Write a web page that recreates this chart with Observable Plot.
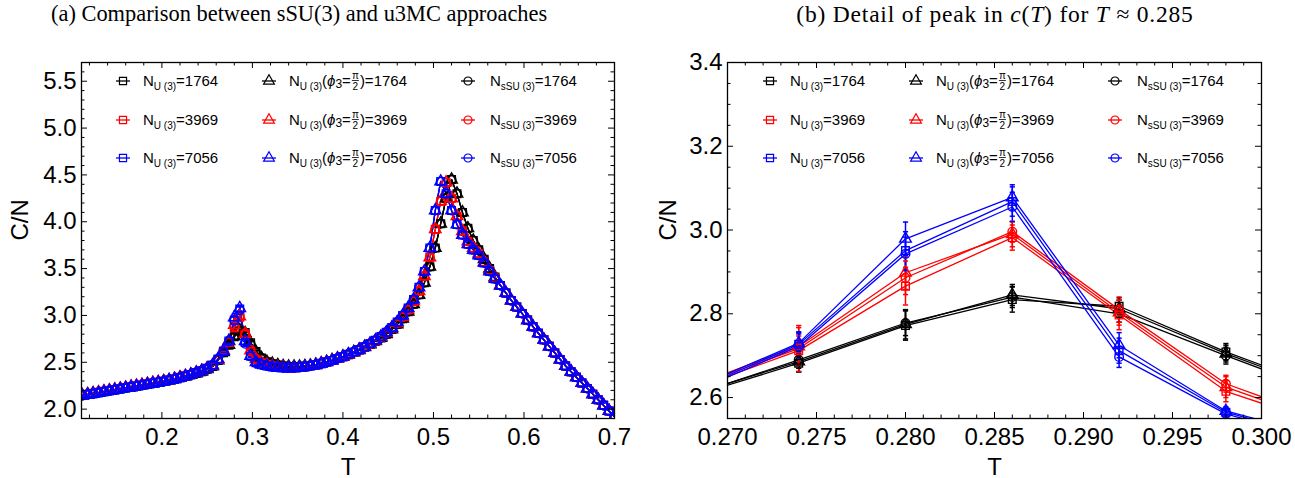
<!DOCTYPE html>
<html><head><meta charset="utf-8">
<script src="https://cdn.jsdelivr.net/npm/d3@7"></script>
<script src="https://cdn.jsdelivr.net/npm/@observablehq/plot@0.6"></script>
<style>
body{margin:0;background:#fff;width:1295px;height:478px;position:relative;overflow:hidden;font-family:"Liberation Sans",Arial,sans-serif;}
.title{position:absolute;top:1px;font-family:"Liberation Serif","Times New Roman",serif;font-size:22.4px;line-height:26px;white-space:nowrap;z-index:2;color:#000;}
.panel{position:absolute;top:0;}
</style></head><body>
<div id="ta" class="title" style="left:51px">(a) Comparison between sSU(3) and u3MC approaches</div>
<div id="tb" class="title" style="left:995px;transform:translateX(-50%);font-size:23.5px;letter-spacing:0.8px">(b) Detail of peak in <i>c</i>(<i>T</i>) for <i>T</i> ≈ 0.285</div>
<div id="pa" class="panel" style="left:0"></div>
<div id="pb" class="panel" style="left:647px"></div>
<script>
// ---------- data ----------
const sizes = [1764, 3969, 7056];
const sizeColors = ["#000000", "#ff0000", "#0000ff"];
const methods = ["U(3)", "U(3) phi3=pi/2", "sSU(3)"];
const methodSymbols = ["square", "triangle", "circle"];

// panel (a): temperature grid and C/N per lattice size
const tempA = [0.112,0.118,0.124,0.130,0.136,0.142,0.148,0.154,0.160,0.166,
0.172,0.178,0.184,0.190,0.196,0.202,0.208,0.214,0.220,0.226,
0.232,0.238,0.244,0.250,0.256,0.262,0.268,0.274,0.280,0.286,
0.292,0.298,0.304,0.310,0.316,0.322,0.328,0.334,0.340,0.346,
0.352,0.358,0.364,0.370,0.376,0.382,0.388,0.394,0.400,0.406,
0.412,0.418,0.424,0.430,0.436,0.442,0.448,0.454,0.460,0.466,
0.472,0.478,0.484,0.490,0.496,0.502,0.508,0.514,0.520,0.526,
0.532,0.538,0.544,0.550,0.556,0.562,0.568,0.574,0.580,0.586,
0.592,0.598,0.604,0.610,0.616,0.622,0.628,0.634,0.640,0.646,
0.652,0.658,0.664,0.670,0.676,0.682,0.688,0.694,0.700];
const cA1764 = [2.145,2.155,2.165,2.175,2.185,2.195,2.205,2.215,2.225,2.235,
2.245,2.255,2.265,2.275,2.285,2.295,2.305,2.32,2.335,2.35,
2.365,2.38,2.40,2.425,2.455,2.52,2.605,2.686,2.775,2.84,
2.812,2.705,2.61,2.545,2.505,2.485,2.47,2.46,2.455,2.455,
2.455,2.46,2.465,2.475,2.49,2.505,2.52,2.54,2.56,2.58,
2.605,2.63,2.66,2.69,2.725,2.76,2.80,2.85,2.905,2.965,
3.04,3.12,3.22,3.35,3.52,3.72,3.98,4.25,4.45,4.30,
4.10,3.93,3.80,3.70,3.60,3.50,3.41,3.32,3.24,3.16,
3.09,3.02,2.95,2.88,2.81,2.74,2.67,2.60,2.53,2.46,
2.40,2.34,2.28,2.22,2.16,2.10,2.04,1.98,1.92];
const cA3969 = [2.15,2.16,2.17,2.18,2.19,2.20,2.21,2.22,2.23,2.24,
2.25,2.26,2.27,2.28,2.29,2.30,2.31,2.325,2.34,2.355,
2.37,2.39,2.41,2.435,2.465,2.53,2.625,2.717,2.886,2.99,
2.803,2.625,2.535,2.495,2.475,2.46,2.45,2.445,2.44,2.44,
2.445,2.45,2.46,2.47,2.485,2.50,2.52,2.54,2.56,2.58,
2.605,2.635,2.665,2.695,2.73,2.77,2.815,2.865,2.92,2.985,
3.06,3.15,3.26,3.42,3.62,3.92,4.22,4.42,4.25,4.06,
3.90,3.79,3.72,3.66,3.57,3.48,3.40,3.32,3.24,3.16,
3.09,3.02,2.95,2.88,2.81,2.74,2.67,2.60,2.53,2.46,
2.40,2.34,2.28,2.22,2.16,2.10,2.04,1.98,1.92];
const cA7056 = [2.145,2.155,2.165,2.175,2.185,2.195,2.205,2.215,2.225,2.235,
2.245,2.255,2.265,2.275,2.285,2.295,2.31,2.32,2.335,2.35,
2.37,2.39,2.41,2.435,2.47,2.535,2.615,2.727,2.95,3.067,
2.711,2.565,2.495,2.475,2.46,2.45,2.445,2.44,2.44,2.44,
2.445,2.45,2.46,2.47,2.485,2.50,2.52,2.54,2.56,2.585,
2.61,2.635,2.665,2.70,2.735,2.775,2.82,2.87,2.93,3.00,
3.08,3.17,3.30,3.47,3.72,4.12,4.43,4.30,4.12,3.97,
3.86,3.76,3.70,3.64,3.56,3.47,3.39,3.32,3.24,3.16,
3.09,3.02,2.95,2.88,2.81,2.74,2.67,2.60,2.53,2.46,
2.40,2.34,2.28,2.22,2.16,2.10,2.04,1.98,1.92];

// panel (b): detail around the first peak, one array per series
const tempB = [0.268, 0.274, 0.280, 0.286, 0.292, 0.298, 0.304];
const cB1764_U3  = [2.603, 2.682, 2.772, 2.834, 2.818, 2.709, 2.615];
const cB1764_phi = [2.607, 2.686, 2.775, 2.845, 2.812, 2.705, 2.610];
const cB1764_sSU = [2.605, 2.690, 2.778, 2.840, 2.800, 2.700, 2.605];
const cB3969_U3  = [2.620, 2.712, 2.866, 2.982, 2.797, 2.615, 2.530];
const cB3969_phi = [2.628, 2.722, 2.898, 2.990, 2.803, 2.625, 2.535];
const cB3969_sSU = [2.625, 2.717, 2.886, 2.996, 2.810, 2.633, 2.540];
const cB7056_U3  = [2.615, 2.727, 2.951, 3.068, 2.712, 2.565, 2.495];
const cB7056_phi = [2.620, 2.730, 2.979, 3.078, 2.725, 2.568, 2.500];
const cB7056_sSU = [2.612, 2.722, 2.943, 3.055, 2.697, 2.561, 2.490];
// error bar half-lengths
const eB1764_U3  = [0.015, 0.020, 0.035, 0.030, 0.020, 0.020, 0.015];
const eB1764_phi = [0.015, 0.025, 0.035, 0.025, 0.020, 0.020, 0.015];
const eB1764_sSU = [0.015, 0.020, 0.030, 0.025, 0.020, 0.020, 0.015];
const eB3969_U3  = [0.015, 0.035, 0.045, 0.030, 0.035, 0.025, 0.015];
const eB3969_phi = [0.015, 0.045, 0.040, 0.030, 0.030, 0.025, 0.015];
const eB3969_sSU = [0.015, 0.055, 0.040, 0.025, 0.030, 0.020, 0.015];
const eB7056_U3  = [0.015, 0.030, 0.045, 0.035, 0.030, 0.010, 0.010];
const eB7056_phi = [0.015, 0.025, 0.040, 0.030, 0.030, 0.010, 0.010];
const eB7056_sSU = [0.015, 0.030, 0.040, 0.035, 0.025, 0.010, 0.010];

// ticks
const xTicksA = [0.2, 0.3, 0.4, 0.5, 0.6, 0.7];
const yTicksA = [2.0, 2.5, 3.0, 3.5, 4.0, 4.5, 5.0, 5.5];
const xTicksB = [0.270, 0.275, 0.280, 0.285, 0.290, 0.295, 0.300];
const yTicksB = [2.6, 2.8, 3.0, 3.2, 3.4];

// ---------- tables ----------
const baseA = [cA1764, cA3969, cA7056];
const detailB = [[cB1764_U3, cB1764_phi, cB1764_sSU],[cB3969_U3, cB3969_phi, cB3969_sSU],[cB7056_U3, cB7056_phi, cB7056_sSU]];
const errB = [[eB1764_U3, eB1764_phi, eB1764_sSU],[eB3969_U3, eB3969_phi, eB3969_sSU],[eB7056_U3, eB7056_phi, eB7056_sSU]];

const rowsA = [], rowsB = [];
sizes.forEach((n, i) => methods.forEach((m, j) => {
  tempA.forEach((t, k) => {
    const d = tempB.indexOf(t);
    rowsA.push({T: t, v: d >= 0 ? detailB[i][j][d] : baseA[i][k], e: d >= 0 ? errB[i][j][d] : 0, sz: String(n), method: m, key: i * 3 + j});
  });
  tempB.forEach((t, k) => rowsB.push({T: t, v: detailB[i][j][k], e: errB[i][j][k], sz: String(n), method: m, key: i * 3 + j}));
}));
const errA = rowsA.filter(d => d.e > 0);

const capSymbol = {draw(ctx, size) { const r = Math.sqrt(size / Math.PI); ctx.moveTo(-r, 0); ctx.lineTo(r, 0); }};
const H = 478, MT = 62, MB = 60;

function panel({rows, errs, width, ml, mr, xDomain, yDomain, xTicks, yTicks, xMinor, yMinor, xFmt, yFmt, ylabDx}) {
  const fw = width - ml - mr, fh = H - MT - MB;
  const majorLen = 6, minorLen = 3.5;
  return Plot.plot({
    width, height: H, marginLeft: ml, marginRight: mr, marginTop: MT, marginBottom: MB,
    x: {domain: xDomain}, y: {domain: yDomain},
    color: {type: "ordinal", domain: sizes.map(String), range: sizeColors},
    symbol: {domain: methods, range: methodSymbols},
    style: {fontFamily: "'Liberation Sans', Arial, sans-serif", fontSize: "24px", background: "white", color: "black", overflow: "visible"},
    marks: [
      Plot.line(rows, {x: "T", y: "v", z: "key", stroke: "sz", strokeWidth: 1.3, clip: true}),
      Plot.ruleX(errs, {x: "T", y1: d => d.v - d.e, y2: d => d.v + d.e, stroke: "sz", strokeWidth: 1.5, clip: true}),
      Plot.dot(errs, {x: "T", y: d => d.v + d.e, symbol: capSymbol, r: 2.6, stroke: "sz", strokeWidth: 1.5, clip: true}),
      Plot.dot(errs, {x: "T", y: d => d.v - d.e, symbol: capSymbol, r: 2.6, stroke: "sz", strokeWidth: 1.5, clip: true}),
      Plot.dot(rows, {x: "T", y: "v", symbol: "method", stroke: "sz", fill: "none", r: 4.3, strokeWidth: 1.4, clip: true}),
      Plot.frame({stroke: "black", strokeWidth: 1.3}),
      Plot.tickX(xTicks, {stroke: "black", insetTop: fh - majorLen}),
      Plot.tickX(xTicks, {stroke: "black", insetBottom: fh - majorLen}),
      Plot.tickX(xMinor, {stroke: "black", insetTop: fh - minorLen}),
      Plot.tickX(xMinor, {stroke: "black", insetBottom: fh - minorLen}),
      Plot.tickY(yTicks, {stroke: "black", insetRight: fw - majorLen}),
      Plot.tickY(yTicks, {stroke: "black", insetLeft: fw - majorLen}),
      Plot.tickY(yMinor, {stroke: "black", insetRight: fw - minorLen}),
      Plot.tickY(yMinor, {stroke: "black", insetLeft: fw - minorLen}),
      Plot.axisX({ticks: xTicks, tickFormat: xFmt, tickSize: 0, tickPadding: 9, label: null}),
      Plot.axisY({ticks: yTicks, tickFormat: yFmt, tickSize: 0, tickPadding: 5, label: null}),
      Plot.text(["T"], {frameAnchor: "bottom", dy: 56, fontSize: 24}),
      Plot.text(["C/N"], {frameAnchor: "left", dx: ylabDx, rotate: -90, fontSize: 24})
    ]
  });
}

const minorA_x = d3.range(0.12, 0.6901, 0.02).filter(v => Math.abs(v * 10 - Math.round(v * 10)) > 1e-6);
const minorA_y = d3.range(1.9, 5.701, 0.1).filter(v => Math.abs(v * 2 - Math.round(v * 2)) > 1e-6);
const minorB_x = d3.range(0.270, 0.3001, 0.001).filter(v => Math.abs(v * 200 - Math.round(v * 200)) > 1e-6);
const minorB_y = d3.range(2.55, 3.4001, 0.05).filter(v => Math.abs(v * 5 - Math.round(v * 5)) > 1e-6);

const svgA = panel({rows: rowsA, errs: errA, width: 647, ml: 81, mr: 33, xDomain: [0.1112, 0.7], yDomain: [1.9, 5.7],
  xTicks: xTicksA, yTicks: yTicksA, xMinor: minorA_x, yMinor: minorA_y, xFmt: d3.format(".1f"), yFmt: d3.format(".1f"), ylabDx: -61});
const svgB = panel({rows: rowsB, errs: rowsB, width: 648, ml: 80, mr: 34, xDomain: [0.270, 0.300], yDomain: [2.55, 3.4],
  xTicks: xTicksB, yTicks: yTicksB, xMinor: minorB_x, yMinor: minorB_y, xFmt: d3.format(".3f"), yFmt: d3.format(".1f"), ylabDx: -59});
document.getElementById("pa").appendChild(svgA);
document.getElementById("pb").appendChild(svgB);

// ---------- legends ----------
const legRowY = [81, 120, 158];
const legMarkX = [123, 269, 468];
const legTextX = [143, 289, 490];
const d3Sym = {square: d3.symbolSquare, triangle: d3.symbolTriangle, circle: d3.symbolCircle};

function legend(svg) {
  const g = d3.select(svg).append("g").attr("font-family", "'Liberation Sans', Arial, sans-serif").attr("fill", "black").attr("text-anchor", "start");
  sizes.forEach((n, i) => methods.forEach((m, j) => {
    const y = legRowY[i], mx = legMarkX[j], col = sizeColors[i];
    g.append("line").attr("x1", mx - 7).attr("x2", mx + 7).attr("y1", y).attr("y2", y).attr("stroke", col).attr("stroke-width", 1.3);
    g.append("path").attr("d", d3.symbol(d3Sym[methodSymbols[j]], Math.PI * 16)()).attr("transform", `translate(${mx},${y})`)
      .attr("fill", "none").attr("stroke", col).attr("stroke-width", 1.2);
    const x = legTextX[j], by = y + 5;
    const t = g.append("text").attr("x", x).attr("y", by).attr("font-size", 15).attr("text-anchor", "start");
    t.append("tspan").text("N");
    t.append("tspan").attr("font-size", 10).attr("dy", 4).text(j === 2 ? "sSU (3)" : "U (3)");
    if (j !== 1) { t.append("tspan").attr("dy", -4).text("=" + n); return; }
    t.append("tspan").attr("dy", -4).text("(");
    t.append("tspan").attr("font-style", "italic").text("ϕ");
    t.append("tspan").attr("font-size", 12).attr("dy", 1.5).text("3");
    t.append("tspan").attr("dy", -1.5).text("=");
    const w = t.node().getComputedTextLength();
    const fx = x + w + 1, fwid = 7;
    g.append("text").attr("x", fx + fwid / 2).attr("y", by - 7).attr("font-size", 10).attr("text-anchor", "middle").text("π");
    g.append("line").attr("x1", fx).attr("x2", fx + fwid).attr("y1", by - 5.5).attr("y2", by - 5.5).attr("stroke", "black").attr("stroke-width", 0.8);
    g.append("text").attr("x", fx + fwid / 2).attr("y", by + 4).attr("font-size", 10).attr("text-anchor", "middle").text("2");
    g.append("text").attr("x", fx + fwid + 1).attr("y", by).attr("font-size", 15).attr("text-anchor", "start").text(")=" + n);
  }));
}
legend(svgA);
legend(svgB);
</script>
</body></html>
